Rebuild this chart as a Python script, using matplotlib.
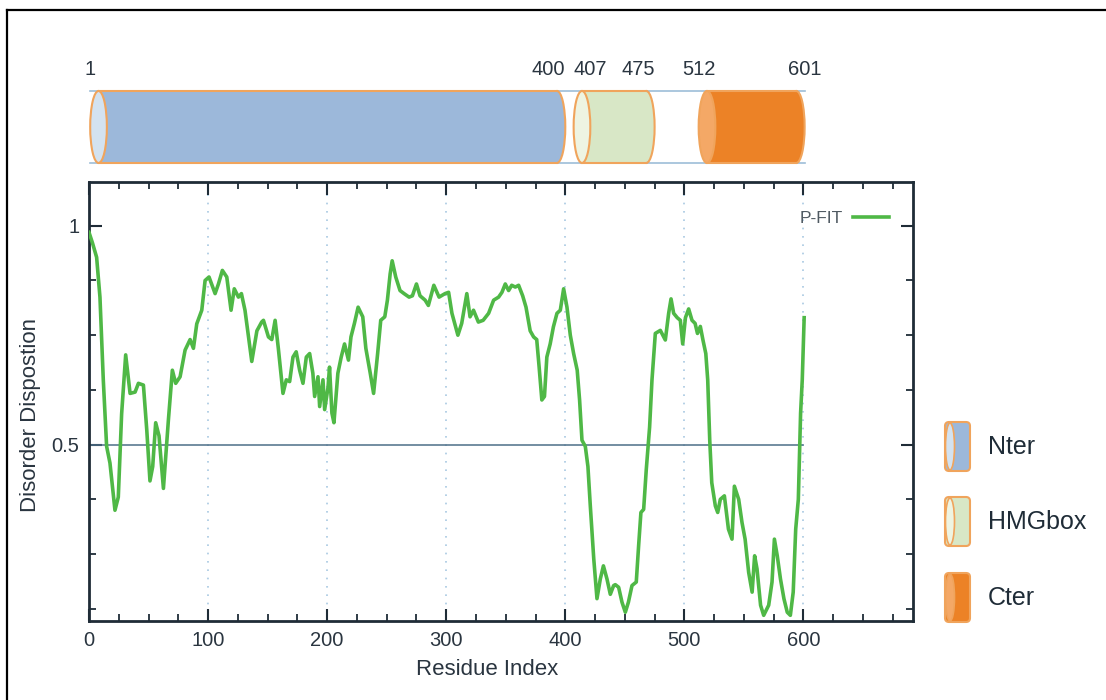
# Disorder profile (P-FIT) with the domain map drawn on top
import matplotlib
matplotlib.use("Agg")
import matplotlib.pyplot as plt
from matplotlib.patches import Ellipse, Rectangle, FancyBboxPatch
from matplotlib.ticker import MultipleLocator, FixedLocator, FixedFormatter

plt.rcParams["font.family"] = ["Liberation Sans", "DejaVu Sans"]

# Residue index and disorder disposition
residue = [0, 3, 6.4, 9.2, 12, 14.8, 17.6, 21.8, 24.6, 27.4, 30.8, 34.5, 38.7, 41.5,
           45.7, 48.5, 51.2, 53.5, 56, 58.8, 62.5, 66.7, 70, 72.8, 76.5, 80.7, 84.9,
           87.7, 90.5, 94.7, 97.5, 100.8, 105.9, 108.7, 112, 115.7, 119.3, 122, 125.5,
           128, 131, 136.7, 141, 145, 146.5, 150.7, 153.5, 156.3, 159, 162.9, 165.7,
           168.5, 171.3, 174, 176.9, 179.7, 182.5, 185.3, 188, 189.5, 192.3, 193.7,
           196.5, 197.9, 200.7, 202, 204, 205.7, 209, 211.8, 214.6, 217.9, 220, 222.9,
           226, 229.9, 232.5, 236.2, 239, 242.4, 245, 248.4, 250.6, 252.9, 254.6,
           257.6, 261.2, 264.6, 268.8, 271.6, 275, 278, 282.3, 285, 289.6, 294, 299,
           302, 304.8, 309.8, 313, 317.3, 320, 322.9, 327, 331, 335.6, 339.8, 344,
           346.8, 349.6, 352.4, 355, 358, 360.8, 364.2, 367, 370.5, 373.4, 376, 378,
           380.3, 382.5, 384.5, 387.3, 390, 393, 395.8, 398.6, 401.4, 404.2, 407, 410,
           412, 414, 416.8, 419, 421, 423.9, 426.6, 429.4, 432, 435, 437.8, 440.6,
           442, 444.8, 447.6, 450.4, 453, 456, 459.6, 461.6, 463.5, 465.8, 468, 470.8,
           472.8, 475.6, 479.8, 484, 486.8, 488.8, 491, 494, 496.6, 498.6, 500.9,
           503.6, 506.4, 509, 511, 513.4, 515.6, 518, 519.6, 521.3, 523, 526, 528,
           530.2, 533.6, 537, 540, 542, 545.6, 548.4, 551, 554, 556.9, 559, 561, 564,
           566.6, 570.8, 573.6, 575.6, 578, 580.7, 583.6, 586.4, 589, 591.4, 593.5,
           595.7, 597.6, 599, 600.6]
disorder = [0.985, 0.96, 0.928, 0.837, 0.648, 0.496, 0.458, 0.35, 0.38, 0.57, 0.705,
            0.617, 0.62, 0.64, 0.636, 0.534, 0.417, 0.45, 0.55, 0.52, 0.40, 0.557,
            0.67, 0.64, 0.655, 0.716, 0.74, 0.72, 0.776, 0.807, 0.875, 0.883, 0.845,
            0.867, 0.898, 0.883, 0.807, 0.856, 0.837, 0.845, 0.807, 0.69, 0.76, 0.78,
            0.784, 0.746, 0.74, 0.784, 0.72, 0.617, 0.648, 0.644, 0.70, 0.712, 0.67,
            0.64, 0.70, 0.708, 0.663, 0.61, 0.655, 0.587, 0.648, 0.58, 0.63, 0.677,
            0.572, 0.55, 0.663, 0.70, 0.73, 0.693, 0.746, 0.777, 0.814, 0.792, 0.72,
            0.663, 0.617, 0.708, 0.784, 0.792, 0.83, 0.89, 0.92, 0.883, 0.852, 0.845,
            0.837, 0.84, 0.867, 0.84, 0.83, 0.818, 0.864, 0.837, 0.845, 0.848, 0.80,
            0.75, 0.777, 0.845, 0.792, 0.807, 0.78, 0.784, 0.80, 0.83, 0.837, 0.848,
            0.867, 0.852, 0.864, 0.86, 0.864, 0.84, 0.814, 0.76, 0.746, 0.74, 0.678,
            0.602, 0.61, 0.70, 0.73, 0.769, 0.80, 0.807, 0.856, 0.814, 0.75, 0.708,
            0.67, 0.602, 0.51, 0.496, 0.45, 0.36, 0.239, 0.148, 0.193, 0.223, 0.193,
            0.158, 0.178, 0.18, 0.174, 0.14, 0.117, 0.14, 0.178, 0.186, 0.27, 0.345,
            0.352, 0.443, 0.54, 0.648, 0.754, 0.761, 0.739, 0.80, 0.833, 0.80, 0.79,
            0.784, 0.73, 0.79, 0.81, 0.784, 0.777, 0.754, 0.77, 0.739, 0.708, 0.648,
            0.51, 0.413, 0.36, 0.345, 0.375, 0.383, 0.307, 0.284, 0.405, 0.375, 0.322,
            0.284, 0.208, 0.163, 0.246, 0.216, 0.133, 0.11, 0.133, 0.186, 0.284, 0.246,
            0.193, 0.148, 0.117, 0.11, 0.163, 0.307, 0.375, 0.572, 0.648, 0.79]

# Domain map
domain_names = ["Nter", "HMGbox", "Cter"]
domain_start = [1, 407, 512]
domain_end = [400, 475, 601]
boundary_labels = [1, 400, 407, 475, 512, 601]
threshold = 0.5

# Colours
body_colors = ["#9cb8da", "#d8e7c6", "#ec8226"]
face_colors = ["#d3e2f0", "#eef4e2", "#f4a866"]
edge_color = "#f0a45c"
line_green = "#4fb846"
dark = "#1f2c37"


def draw_domain(ax, start, end, body, face, y0, h, w=14):
    # cylinder: rounded right end, body, front face on the left
    yc = y0 + h / 2
    ax.add_patch(Ellipse((end - w / 2, yc), w, h, fc=body, ec=edge_color, lw=1.5, zorder=2))
    ax.add_patch(Rectangle((start + w / 2, y0), end - start - w, h, fc=body, ec="none", zorder=3))
    ax.plot([start + w / 2, end - w / 2], [y0, y0], color=edge_color, lw=1.5, zorder=4)
    ax.plot([start + w / 2, end - w / 2], [y0 + h, y0 + h], color=edge_color, lw=1.5, zorder=4)
    ax.add_patch(Ellipse((start + w / 2, yc), w, h, fc=face, ec=edge_color, lw=1.5, zorder=5))


def main():
    W, H = 1106, 700
    fig = plt.figure(figsize=(W / 100, H / 100), dpi=100)

    # background overlay in pixel coordinates (frame and domain legend)
    bg = fig.add_axes([0, 0, 1, 1])
    bg.set_xlim(0, W)
    bg.set_ylim(H, 0)
    bg.axis("off")
    bg.plot([7, 7], [10, H], color="black", lw=1.6)
    bg.plot([7, W], [10, 10], color="black", lw=1.6)

    icon_y = [422, 497, 573]
    for name, body, face, y in zip(domain_names, body_colors, face_colors, icon_y):
        bg.add_patch(FancyBboxPatch((945, y), 25, 49, boxstyle="round,pad=0,rounding_size=4",
                                    fc=body, ec=edge_color, lw=1.5))
        bg.add_patch(Ellipse((950, y + 24.5), 9, 47, fc=face, ec=edge_color, lw=1.2))
        bg.text(988, y + 25, name, fontsize=18, color=dark, va="center", ha="left")

    left, right, top, bottom = 89, 913, 182, 621
    ax = fig.add_axes([left / W, 1 - bottom / H, (right - left) / W, (bottom - top) / H])

    # Disorder curve and the 0.5 threshold
    ax.plot([0, 600], [threshold, threshold], color="#4d6f88", lw=1.1, zorder=2)
    ax.plot(residue, disorder, color=line_green, lw=2.6, label="P-FIT", zorder=3)

    ax.set_xlim(0, 692)
    ax.set_ylim(0.097, 1.1)

    ax.xaxis.set_major_locator(FixedLocator([0, 100, 200, 300, 400, 500, 600]))
    ax.xaxis.set_minor_locator(MultipleLocator(25))
    ax.yaxis.set_major_locator(FixedLocator([0.5, 1.0]))
    ax.yaxis.set_major_formatter(FixedFormatter(["0.5", "1"]))
    ax.yaxis.set_minor_locator(MultipleLocator(0.125))
    ax.tick_params(which="both", direction="in", top=True, right=True,
                   color=dark, labelsize=14.5, labelcolor="#2a3540", pad=7)
    ax.tick_params(which="major", length=9, width=1.5)
    ax.tick_params(which="minor", length=5, width=1.3)

    # dotted vertical grid at major x ticks
    for xv in [100, 200, 300, 400, 500, 600]:
        ax.axvline(xv, color="#a8c8e2", lw=1.2, ls=(0, (1, 4)), zorder=1)

    for s in ax.spines.values():
        s.set_color(dark)
        s.set_linewidth(2)

    ax.set_xlabel("Residue Index", fontsize=16, color="#2a3540")
    ax.set_ylabel("Disorder Dispostion", fontsize=16, color="#2a3540")
    ax.xaxis.set_label_coords(0.483, -0.087)
    ax.yaxis.set_label_coords(-0.058, 0.47)

    ax.legend(loc="upper right", bbox_to_anchor=(0.982, 0.955), frameon=False,
              markerfirst=False, fontsize=12.5, handlelength=2.1, handletextpad=0.6,
              borderpad=0, labelcolor="#505a62")

    # Domain map above the plot, same x scale
    axt = fig.add_axes([left / W, 1 - 172 / H, (right - left) / W, 114 / H])
    axt.set_xlim(ax.get_xlim())
    axt.set_ylim(0, 1)
    axt.axis("off")
    y0, h = 0.079, 0.632
    axt.plot([domain_start[0], domain_end[-1]], [y0, y0], color="#9dbdd8", lw=1.2, zorder=1)
    axt.plot([domain_start[0], domain_end[-1]], [y0 + h, y0 + h], color="#9dbdd8", lw=1.2, zorder=1)
    for s0, e0, body, face in zip(domain_start, domain_end, body_colors, face_colors):
        draw_domain(axt, s0, e0, body, face, y0, h)

    aligns = ["center", "right", "left", "right", "center", "center"]
    for lab, ha in zip(boundary_labels, aligns):
        axt.text(lab, 0.895, str(lab), fontsize=14.5, color="#2a3540", ha=ha, va="center")

    fig.savefig("out.png", dpi=100)


if __name__ == "__main__":
    main()
